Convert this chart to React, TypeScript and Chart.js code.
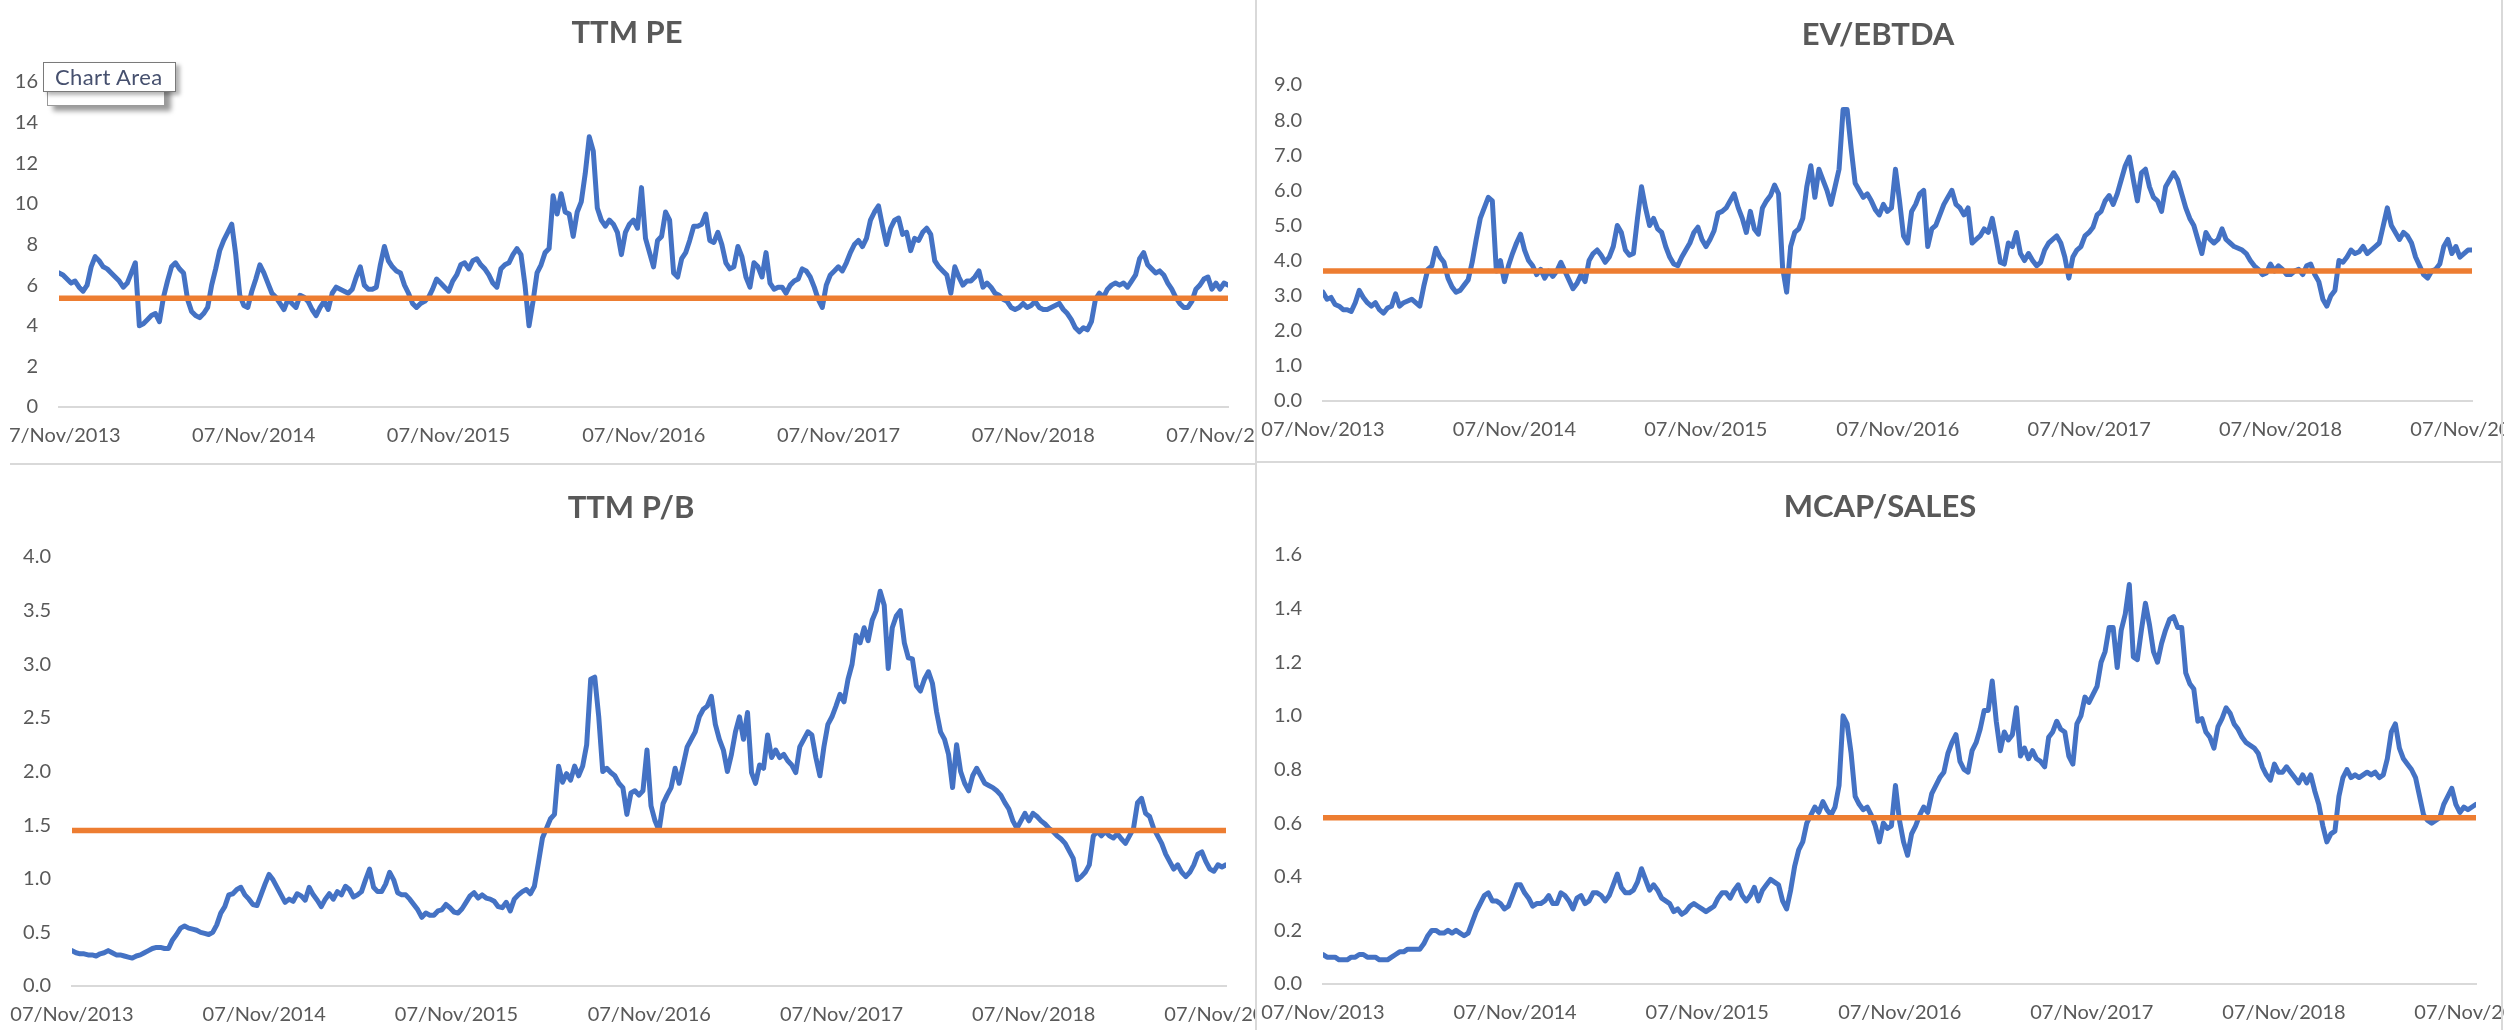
import React, { useEffect, useRef } from "react";
import { Chart, registerables } from "chart.js";

Chart.register(...registerables);

// Shared date axis: one tick per anniversary of 07/Nov/2013, values in days since then.
const xTickLabels = ["07/Nov/2013", "07/Nov/2014", "07/Nov/2015", "07/Nov/2016", "07/Nov/2017", "07/Nov/2018", "07/Nov/2019"];
const xTickDays = [0, 365, 730, 1096, 1461, 1826, 2191];
const SPAN_DAYS = 2191;

// Trailing P/E, evenly spaced observations across the six years.
const ttmPe = [
  6.6, 6.5, 6.3, 6.1, 6.2, 5.9, 5.7, 6.0, 6.9, 7.4,
  7.2, 6.9, 6.8, 6.6, 6.4, 6.2, 5.9, 6.1, 6.6, 7.1,
  4.0, 4.1, 4.3, 4.5, 4.6, 4.2, 5.4, 6.2, 6.9, 7.1,
  6.8, 6.6, 5.3, 4.7, 4.5, 4.4, 4.6, 4.9, 6.0, 6.8,
  7.7, 8.2, 8.6, 9.0, 7.5, 5.5, 5.0, 4.9, 5.7, 6.3,
  7.0, 6.6, 6.1, 5.6, 5.4, 5.1, 4.8, 5.3, 5.1, 4.9,
  5.5, 5.4, 5.2, 4.8, 4.5, 4.9, 5.2, 4.8, 5.6, 5.9,
  5.8, 5.7, 5.6, 5.8, 6.4, 6.9, 6.0, 5.8, 5.8, 5.9,
  7.0, 7.9, 7.2, 6.9, 6.7, 6.6, 6.0, 5.6, 5.1, 4.9,
  5.1, 5.2, 5.4, 5.8, 6.3, 6.1, 5.9, 5.7, 6.2, 6.5,
  7.0, 7.1, 6.8, 7.2, 7.3, 7.0, 6.8, 6.5, 6.1, 5.9,
  6.8, 7.0, 7.1, 7.5, 7.8, 7.5, 6.0, 4.0, 5.2, 6.6,
  7.0, 7.6, 7.8, 10.4, 9.5, 10.5, 9.6, 9.5, 8.4, 9.6,
  10.1, 11.5, 13.3, 12.6, 9.8, 9.2, 8.9, 9.2, 9.0, 8.6,
  7.5, 8.6, 9.0, 9.2, 8.8, 10.8, 8.3, 7.6, 6.9, 8.2,
  8.4, 9.6, 9.2, 6.6, 6.4, 7.3, 7.6, 8.2, 8.9, 8.9,
  9.0, 9.5, 8.2, 8.1, 8.6, 8.0, 7.1, 6.8, 6.9, 7.9,
  7.4, 6.4, 5.9, 7.1, 6.9, 6.4, 7.6, 6.1, 5.8, 5.9,
  5.9, 5.6, 6.0, 6.2, 6.3, 6.8, 6.7, 6.4, 5.9, 5.3,
  4.9, 6.0, 6.5, 6.7, 6.9, 6.7, 7.1, 7.6, 8.0, 8.2,
  7.9, 8.3, 9.2, 9.6, 9.9, 8.9, 8.0, 8.8, 9.2, 9.3,
  8.5, 8.6, 7.7, 8.3, 8.2, 8.6, 8.8, 8.5, 7.2, 6.9,
  6.7, 6.5, 5.6, 6.9, 6.4, 6.0, 6.2, 6.2, 6.4, 6.7,
  5.9, 6.1, 5.9, 5.6, 5.5, 5.3, 5.2, 4.9, 4.8, 4.9,
  5.1, 4.9, 5.0, 5.2, 4.9, 4.8, 4.8, 4.9, 5.0, 5.1,
  4.8, 4.6, 4.3, 3.9, 3.7, 3.9, 3.8, 4.2, 5.3, 5.6,
  5.4, 5.8, 6.0, 6.1, 6.0, 6.1, 5.9, 6.2, 6.5, 7.3,
  7.6, 7.0, 6.8, 6.6, 6.7, 6.5, 6.1, 5.8, 5.4, 5.1,
  4.9, 4.9, 5.2, 5.8, 6.0, 6.3, 6.4, 5.8, 6.1, 5.8,
  6.1, 6.0,
];

const evEbitda = [
  3.1, 2.9, 2.95, 2.75, 2.7, 2.6, 2.6, 2.55, 2.8, 3.15,
  2.95, 2.8, 2.7, 2.8, 2.6, 2.5, 2.65, 2.7, 3.05, 2.7,
  2.8, 2.85, 2.9, 2.8, 2.7, 3.27, 3.75, 3.85, 4.35, 4.1,
  3.95, 3.5, 3.25, 3.1, 3.15, 3.3, 3.45, 3.95, 4.6, 5.2,
  5.5, 5.8, 5.7, 3.7, 4.0, 3.4, 3.85, 4.2, 4.5, 4.75,
  4.3, 4.0, 3.85, 3.6, 3.75, 3.5, 3.7, 3.55, 3.7, 3.95,
  3.7, 3.45, 3.2, 3.35, 3.6, 3.4, 4.0, 4.2, 4.3, 4.15,
  3.95, 4.1, 4.4, 5.0, 4.8, 4.3, 4.15, 4.2, 5.2, 6.1,
  5.5, 5.0, 5.2, 4.9, 4.8, 4.4, 4.1, 3.9, 3.85, 4.1,
  4.3, 4.5, 4.8, 4.95, 4.6, 4.4, 4.6, 4.85, 5.35, 5.4,
  5.5, 5.7, 5.9, 5.5, 5.2, 4.8, 5.4, 4.9, 4.75, 5.5,
  5.7, 5.85, 6.15, 5.9, 3.8, 3.1, 4.4, 4.8, 4.9, 5.2,
  6.1, 6.7, 5.8, 6.6, 6.3, 6.0, 5.6, 6.1, 6.6, 8.3,
  8.3, 7.2, 6.2, 6.0, 5.8, 5.9, 5.7, 5.45, 5.3, 5.6,
  5.4, 5.5, 6.6, 5.7, 4.7, 4.5, 5.4, 5.6, 5.9, 6.0,
  4.4, 4.9, 5.0, 5.3, 5.6, 5.8, 6.0, 5.6, 5.5, 5.3,
  5.5, 4.5, 4.6, 4.7, 4.9, 4.8, 5.2, 4.6, 3.95, 3.9,
  4.5, 4.4, 4.8, 4.2, 4.0, 4.2, 4.0, 3.85, 3.95, 4.3,
  4.5, 4.6, 4.7, 4.5, 4.1, 3.5, 4.1, 4.3, 4.4, 4.7,
  4.8, 4.95, 5.3, 5.4, 5.7, 5.85, 5.6, 5.9, 6.3, 6.7,
  6.95, 6.3, 5.7, 6.5, 6.6, 6.1, 5.8, 5.7, 5.4, 6.1,
  6.3, 6.5, 6.3, 5.9, 5.5, 5.2, 5.0, 4.6, 4.2, 4.8,
  4.6, 4.5, 4.6, 4.9, 4.6, 4.5, 4.4, 4.35, 4.3, 4.2,
  4.0, 3.85, 3.75, 3.6, 3.65, 3.9, 3.7, 3.85, 3.75, 3.6,
  3.6, 3.7, 3.75, 3.6, 3.85, 3.9, 3.6, 3.4, 2.9, 2.7,
  3.0, 3.15, 4.0, 3.95, 4.1, 4.3, 4.2, 4.25, 4.4, 4.2,
  4.3, 4.4, 4.5, 5.0, 5.5, 5.0, 4.8, 4.6, 4.8, 4.7,
  4.5, 4.1, 3.85, 3.6, 3.5, 3.7, 3.75, 3.9, 4.4, 4.6,
  4.2, 4.4, 4.1, 4.2, 4.3, 4.3,
];

const ttmPb = [
  0.33, 0.31, 0.30, 0.30, 0.29, 0.29, 0.28, 0.30, 0.31, 0.33,
  0.31, 0.29, 0.29, 0.28, 0.27, 0.26, 0.28, 0.29, 0.31, 0.33,
  0.35, 0.36, 0.36, 0.35, 0.35, 0.43, 0.48, 0.54, 0.56, 0.54,
  0.53, 0.52, 0.50, 0.49, 0.48, 0.50, 0.57, 0.68, 0.74, 0.85,
  0.86, 0.90, 0.92, 0.85, 0.81, 0.76, 0.75, 0.85, 0.95, 1.04,
  0.99, 0.92, 0.85, 0.78, 0.81, 0.79, 0.86, 0.84, 0.80, 0.92,
  0.85, 0.80, 0.74, 0.81, 0.86, 0.81, 0.88, 0.85, 0.93, 0.90,
  0.83, 0.85, 0.88, 0.99, 1.09, 0.92, 0.88, 0.88, 0.95, 1.06,
  0.99, 0.87, 0.85, 0.85, 0.81, 0.76, 0.71, 0.64, 0.68, 0.66,
  0.66, 0.70, 0.71, 0.76, 0.73, 0.69, 0.68, 0.72, 0.78, 0.84,
  0.87, 0.82, 0.85, 0.82, 0.81, 0.79, 0.74, 0.73, 0.78, 0.70,
  0.81, 0.85, 0.88, 0.90, 0.86, 0.93, 1.15, 1.38, 1.47, 1.56,
  1.60, 2.05, 1.90, 1.98, 1.92, 2.05, 1.96, 2.05, 2.25, 2.86,
  2.88, 2.51, 2.00, 2.03, 1.99, 1.96, 1.89, 1.85, 1.60, 1.80,
  1.82, 1.78, 1.82, 2.20, 1.68, 1.54, 1.45, 1.70, 1.78, 1.85,
  2.03, 1.89, 2.06, 2.23, 2.30, 2.37, 2.51, 2.58, 2.61, 2.70,
  2.44, 2.30, 2.20, 2.00, 2.16, 2.37, 2.51, 2.30, 2.55, 1.99,
  1.89, 2.06, 2.03, 2.34, 2.13, 2.20, 2.13, 2.16, 2.10, 2.06,
  1.99, 2.23, 2.30, 2.37, 2.34, 2.13, 1.96, 2.23, 2.44, 2.51,
  2.61, 2.72, 2.65, 2.86, 3.00, 3.27, 3.20, 3.34, 3.22, 3.41,
  3.50, 3.68, 3.55, 2.96, 3.34, 3.45, 3.50, 3.20, 3.06, 3.05,
  2.80, 2.75, 2.86, 2.93, 2.82, 2.56, 2.37, 2.30, 2.16, 1.85,
  2.25, 2.00, 1.89, 1.82, 1.96, 2.03, 1.96, 1.89, 1.87, 1.85,
  1.82, 1.78, 1.71, 1.65, 1.54, 1.47, 1.54, 1.61, 1.54, 1.61,
  1.58, 1.54, 1.51, 1.47, 1.44, 1.40, 1.37, 1.33, 1.26, 1.19,
  0.99, 1.02, 1.06, 1.13, 1.40, 1.44, 1.40, 1.44, 1.40, 1.38,
  1.42, 1.37, 1.33, 1.40, 1.47, 1.71, 1.75, 1.61, 1.58, 1.47,
  1.40, 1.33, 1.23, 1.16, 1.09, 1.13, 1.06, 1.02, 1.06, 1.13,
  1.23, 1.25, 1.16, 1.09, 1.07, 1.13, 1.11, 1.13,
];

const mcapSales = [
  0.11, 0.10, 0.10, 0.10, 0.09, 0.09, 0.09, 0.10, 0.10, 0.11,
  0.11, 0.10, 0.10, 0.10, 0.09, 0.09, 0.09, 0.10, 0.11, 0.12,
  0.12, 0.13, 0.13, 0.13, 0.13, 0.15, 0.18, 0.20, 0.20, 0.19,
  0.19, 0.20, 0.19, 0.20, 0.19, 0.18, 0.19, 0.23, 0.27, 0.30,
  0.33, 0.34, 0.31, 0.31, 0.30, 0.28, 0.29, 0.33, 0.37, 0.37,
  0.34, 0.32, 0.29, 0.30, 0.30, 0.31, 0.33, 0.30, 0.30, 0.34,
  0.33, 0.31, 0.28, 0.32, 0.33, 0.30, 0.31, 0.34, 0.34, 0.33,
  0.31, 0.33, 0.37, 0.41, 0.36, 0.34, 0.34, 0.35, 0.38, 0.43,
  0.39, 0.35, 0.37, 0.35, 0.32, 0.31, 0.30, 0.27, 0.28, 0.26,
  0.27, 0.29, 0.30, 0.29, 0.28, 0.27, 0.28, 0.29, 0.32, 0.34,
  0.34, 0.32, 0.35, 0.37, 0.33, 0.31, 0.33, 0.36, 0.31, 0.35,
  0.37, 0.39, 0.38, 0.37, 0.31, 0.28, 0.35, 0.44, 0.50, 0.53,
  0.60, 0.63, 0.66, 0.64, 0.68, 0.65, 0.63, 0.66, 0.74, 1.00,
  0.97, 0.86, 0.70, 0.67, 0.65, 0.66, 0.63, 0.59, 0.53, 0.60,
  0.58, 0.59, 0.74, 0.61, 0.53, 0.48, 0.56, 0.59, 0.63, 0.66,
  0.64, 0.71, 0.74, 0.77, 0.79, 0.86, 0.90, 0.93, 0.83, 0.80,
  0.79, 0.87, 0.90, 0.95, 1.02, 1.02, 1.13, 0.98, 0.87, 0.94,
  0.91, 0.93, 1.03, 0.85, 0.88, 0.84, 0.87, 0.84, 0.83, 0.81,
  0.92, 0.94, 0.98, 0.95, 0.94, 0.85, 0.82, 0.97, 1.00, 1.07,
  1.05, 1.08, 1.11, 1.20, 1.24, 1.33, 1.33, 1.18, 1.32, 1.38,
  1.49, 1.22, 1.21, 1.32, 1.42, 1.34, 1.24, 1.20, 1.27, 1.32,
  1.36, 1.37, 1.33, 1.33, 1.16, 1.12, 1.10, 0.98, 0.99, 0.94,
  0.92, 0.88, 0.96, 0.99, 1.03, 1.01, 0.97, 0.95, 0.92, 0.90,
  0.89, 0.88, 0.86, 0.81, 0.78, 0.76, 0.82, 0.79, 0.79, 0.81,
  0.79, 0.77, 0.75, 0.78, 0.75, 0.78, 0.72, 0.67, 0.59, 0.53,
  0.56, 0.57, 0.70, 0.77, 0.80, 0.77, 0.78, 0.77, 0.78, 0.79,
  0.78, 0.79, 0.77, 0.78, 0.84, 0.94, 0.97, 0.88, 0.84, 0.82,
  0.80, 0.77, 0.70, 0.63, 0.61, 0.60, 0.61, 0.62, 0.67, 0.70,
  0.73, 0.67, 0.64, 0.66, 0.65, 0.66, 0.67,
];

// Long-run averages drawn as flat reference lines.
const ttmPeAverage = 5.35;
const evEbitdaAverage = 3.7;
const ttmPbAverage = 1.45;
const mcapSalesAverage = 0.62;

// Value-axis ticks.
const ttmPeTicks = [0, 2, 4, 6, 8, 10, 12, 14, 16];
const evEbitdaTicks = [0, 1, 2, 3, 4, 5, 6, 7, 8, 9];
const ttmPbTicks = [0, 0.5, 1, 1.5, 2, 2.5, 3, 3.5, 4];
const mcapSalesTicks = [0, 0.2, 0.4, 0.6, 0.8, 1, 1.2, 1.4, 1.6];

const BLUE = "#4472C4";
const ORANGE = "#ED7D31";
const TEXT = "#595959";
const RULE = "#D9D9D9";
const FONT = "Lato, 'Open Sans', sans-serif";
const X_AXIS_H = 40;

type Panel = {
  title: string;
  values: number[];
  average: number;
  yTicks: number[];
  decimals: number;
  box: [number, number, number, number]; // canvas left, top, width, height
  plot: [number, number, number, number]; // plot left, top, right, bottom
  titleAt: [number, number];
};

const panels: Panel[] = [
  { title: "TTM PE", values: ttmPe, average: ttmPeAverage, yTicks: ttmPeTicks, decimals: 0,
    box: [10, 0, 1246, 464], plot: [59, 82, 1228, 407], titleAt: [627, 31] },
  { title: "EV/EBTDA", values: evEbitda, average: evEbitdaAverage, yTicks: evEbitdaTicks, decimals: 1,
    box: [1258, 0, 1246, 461], plot: [1323, 85, 2472, 401], titleAt: [1878, 33] },
  { title: "TTM P/B", values: ttmPb, average: ttmPbAverage, yTicks: ttmPbTicks, decimals: 1,
    box: [10, 465, 1246, 565], plot: [72, 557, 1226, 986], titleAt: [631, 506] },
  { title: "MCAP/SALES", values: mcapSales, average: mcapSalesAverage, yTicks: mcapSalesTicks, decimals: 1,
    box: [1258, 463, 1246, 567], plot: [1323, 555, 2476, 984], titleAt: [1880, 505] },
];

function ValuationChart({ panel }: { panel: Panel }) {
  const ref = useRef<HTMLCanvasElement>(null);
  const [cl, ct, cw, ch] = panel.box;

  useEffect(() => {
    if (!ref.current) return;
    const [pl, pt, pr, pb] = panel.plot;
    const yAxisW = pl - cl;
    const n = panel.values.length;
    const series = panel.values.map((v, i) => ({ x: (i * SPAN_DAYS) / (n - 1), y: v }));
    const avg = [
      { x: 0, y: panel.average },
      { x: SPAN_DAYS, y: panel.average },
    ];
    const yMax = panel.yTicks[panel.yTicks.length - 1];

    const chart = new Chart(ref.current, {
      type: "line",
      data: {
        datasets: [
          { data: avg, borderColor: ORANGE, borderWidth: 5.5, pointRadius: 0, order: 0, borderCapStyle: "butt" },
          { data: series, borderColor: BLUE, borderWidth: 5, pointRadius: 0, order: 1,
            borderJoinStyle: "round", borderCapStyle: "round", tension: 0 },
        ],
      },
      options: {
        animation: false,
        responsive: false,
        devicePixelRatio: 1,
        events: [],
        layout: {
          padding: {
            left: 0,
            top: pt - ct,
            right: cl + cw - pr,
            bottom: ct + ch - pb - X_AXIS_H,
          },
        },
        plugins: { legend: { display: false }, tooltip: { enabled: false }, title: { display: false } },
        scales: {
          x: {
            type: "linear",
            min: 0,
            max: SPAN_DAYS,
            grid: { display: false, drawTicks: false },
            border: { display: true, color: RULE, width: 2 },
            ticks: {
              autoSkip: false,
              maxRotation: 0,
              minRotation: 0,
              padding: 17,
              color: TEXT,
              font: { family: FONT, size: 20 },
              callback: (_v: any, i: number) => xTickLabels[i],
            },
            afterBuildTicks: (s: any) => {
              s.ticks = xTickDays.map((value) => ({ value }));
            },
            afterFit: (s: any) => {
              s.height = X_AXIS_H;
              s.paddingLeft = 0;
              s.paddingRight = 0;
            },
          },
          y: {
            type: "linear",
            min: 0,
            max: yMax,
            grid: { display: false, drawTicks: false },
            border: { display: false },
            ticks: {
              padding: 21,
              color: TEXT,
              font: { family: FONT, size: 20 },
              callback: (v: any) => Number(v).toFixed(panel.decimals),
            },
            afterBuildTicks: (s: any) => {
              s.ticks = panel.yTicks.map((value) => ({ value }));
            },
            afterFit: (s: any) => {
              s.width = yAxisW;
              s.paddingTop = 0;
              s.paddingBottom = 0;
            },
          },
        },
      } as any,
    });
    return () => chart.destroy();
  }, [panel]);

  return (
    <canvas
      ref={ref}
      width={cw}
      height={ch}
      style={{ position: "absolute", left: cl, top: ct, width: cw, height: ch }}
    />
  );
}

function Rule({ l, t, w, h }: { l: number; t: number; w: number; h: number }) {
  return <div style={{ position: "absolute", left: l, top: t, width: w, height: h, background: RULE }} />;
}

export default function App() {
  return (
    <div
      style={{
        position: "fixed",
        left: 0,
        top: 0,
        width: 2504,
        height: 1030,
        overflow: "hidden",
        background: "#ffffff",
        fontFamily: FONT,
      }}
    >
      {panels.map((p) => (
        <ValuationChart key={p.title} panel={p} />
      ))}
      {panels.map((p) => (
        <div
          key={p.title + "-title"}
          style={{
            position: "absolute",
            left: p.titleAt[0],
            top: p.titleAt[1],
            transform: "translate(-50%, -50%)",
            fontSize: 31,
            lineHeight: "32px",
            fontWeight: 700,
            color: TEXT,
            whiteSpace: "nowrap",
          }}
        >
          {p.title}
        </div>
      ))}
      <Rule l={1255} t={0} w={2} h={1030} />
      <Rule l={10} t={463} w={1246} h={2} />
      <Rule l={1257} t={461} w={1246} h={2} />
      <Rule l={2501} t={0} w={2} h={1030} />

      {/* hover label over the first chart's area */}
      <div
        style={{
          position: "absolute",
          left: 47,
          top: 70,
          width: 116,
          height: 34,
          background: "#ffffff",
          border: "1px solid #9a9a9a",
          boxShadow: "6px 5px 5px rgba(0,0,0,0.4)",
        }}
      />
      <div
        style={{
          position: "absolute",
          left: 43,
          top: 62,
          width: 120,
          height: 28,
          background: "#ffffff",
          border: "1px solid #7a7a7a",
          boxShadow: "4px 3px 4px rgba(0,0,0,0.3)",
          color: "#46506e",
          fontFamily: FONT,
          fontSize: 22,
          letterSpacing: 0.4,
          lineHeight: "28px",
          paddingLeft: 11,
          boxSizing: "content-box",
          whiteSpace: "nowrap",
          overflow: "hidden",
        }}
      >
        Chart Area
      </div>
    </div>
  );
}
